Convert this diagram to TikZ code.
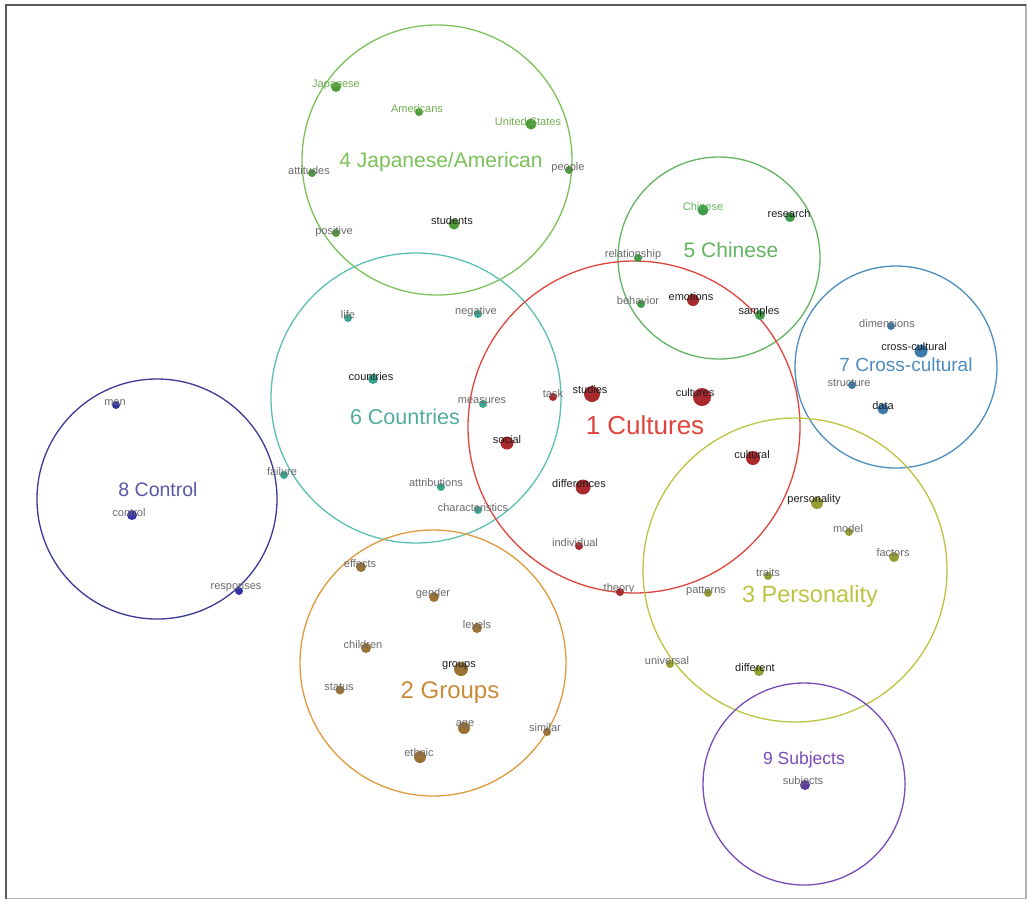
\documentclass[tikz,border=0pt]{standalone}
\usepackage{fontspec}
\setmainfont{Liberation Sans}
\definecolor{cRed}{HTML}{E0443C}
\definecolor{cRedDot}{HTML}{A8282C}
\definecolor{cJap}{HTML}{7CC15A}
\definecolor{cJapDot}{HTML}{4F9A3A}
\definecolor{cChi}{HTML}{62B562}
\definecolor{cChiDot}{HTML}{3F9A4A}
\definecolor{cTeal}{HTML}{5CC0B0}
\definecolor{cTealDot}{HTML}{3AA58F}
\definecolor{cBlue}{HTML}{4D8DBF}
\definecolor{cBlueDot}{HTML}{3B7AAD}
\definecolor{cOlive}{HTML}{BCC441}
\definecolor{cOliveDot}{HTML}{959E30}
\definecolor{cOrange}{HTML}{E09A3E}
\definecolor{cOrangeDot}{HTML}{9A7236}
\definecolor{cNavy}{HTML}{3C3A96}
\definecolor{cNavyDot}{HTML}{3434A8}
\definecolor{cPurple}{HTML}{7A4CB8}
\definecolor{cPurpleDot}{HTML}{5C3A9E}
\tikzset{
  lbl/.style={inner sep=0pt, font=\fontsize{11}{12}\selectfont},
  key/.style={lbl, text=black!88},
  minor/.style={lbl, text=black!58},
  ring/.style={line width=1.3pt},
  title/.style={inner sep=0pt, font=\fontsize{#1}{#1}\selectfont},
}
\begin{document}
\begin{tikzpicture}[x=1pt,y=-1pt]
\useasboundingbox (0,0) rectangle (1027,900);
\fill[white] (0,0) rectangle (1027,900);
\draw[gray!60, line width=1.4pt] (5.5,4.5) rectangle (1026,898.5);
\draw[gray!70!black, line width=2pt] (5.5,898.5) -- (5.5,4.5) -- (1026,4.5);
% rings
\draw[ring, cJap] (437,160) circle (135);
\draw[ring, cChi] (719,258) circle (101);
\draw[ring, cTeal] (416,398) circle (145);
\draw[ring, cRed] (634,427) circle (166);
\draw[ring, cBlue] (896,367) circle (101);
\draw[ring, cOlive] (795,570) circle (152);
\draw[ring, cOrange] (433,663) circle (133);
\draw[ring, cNavy] (157,499) circle (120);
\draw[ring, cPurple] (804,784) circle (101);
% 1 Cultures
\fill[cRedDot] (592,394) circle (8);
\fill[cRedDot] (702,397) circle (9);
\fill[cRedDot] (507,443) circle (6.5);
\fill[cRedDot] (583,487) circle (7.5);
\fill[cRedDot] (753,458) circle (7);
\fill[cRedDot] (693,300) circle (6);
\fill[cRedDot] (553,397) circle (4);
\fill[cRedDot] (579,546) circle (4);
\fill[cRedDot] (620,592) circle (4);
\node[key] (studies) at (590,390) {studies};
\node[key] (cultures) at (695,393) {cultures};
\node[key] (social) at (507,440) {social};
\node[key] (differences) at (579,484) {differences};
\node[key] (cultural) at (752,455) {cultural};
\node[key] (emotions) at (691,297) {emotions};
\node[minor] (task) at (553,394) {task};
\node[minor] (individual) at (575,543) {individual};
\node[minor] (theory) at (619,589) {theory};
\node[title=26, text=cRed] (cultureshead) at (645,425) {1 Cultures};
% 4 Japanese/American
\fill[cJapDot] (336,87) circle (5);
\fill[cJapDot] (419,112) circle (4);
\fill[cJapDot] (531,124) circle (5.5);
\fill[cJapDot] (312,173) circle (4);
\fill[cJapDot] (569,170) circle (4);
\fill[cJapDot] (454,224) circle (5.5);
\fill[cJapDot] (336,233) circle (4);
\node[lbl, text=cJap!90!black] (japanese) at (336,85) {Japanese};
\node[lbl, text=cJap!90!black] (americans) at (417,109) {Americans};
\node[lbl, text=cJap!90!black] (unitedstates) at (528,122) {United States};
\node[minor] (attitudes) at (309,171) {attitudes};
\node[minor] (people) at (568,168) {people};
\node[key] (students) at (452,221) {students};
\node[minor] (positive) at (334,232) {positive};
\node[title=21, text=cJap] (japhead) at (441,162) {4 Japanese/American};
% 5 Chinese
\fill[cChiDot] (703,210) circle (5.5);
\fill[cChiDot] (790,217) circle (5);
\fill[cChiDot] (638,258) circle (4);
\fill[cChiDot] (641,304) circle (4);
\fill[cChiDot] (760,315) circle (5);
\node[lbl, text=cChi] (chinese) at (703,207) {Chinese};
\node[key] (research) at (789,214) {research};
\node[minor] (relationship) at (633,255) {relationship};
\node[minor] (behavior) at (638,301) {behavior};
\node[key] (samples) at (759,312) {samples};
\node[title=21, text=cChi] (chinesehead) at (731,250) {5 Chinese};
% 6 Countries
\fill[cTealDot] (348,318) circle (4);
\fill[cTealDot] (478,314) circle (4);
\fill[cTealDot] (373,379) circle (5);
\fill[cTealDot] (483,404) circle (4);
\fill[cTealDot] (284,475) circle (4);
\fill[cTealDot] (441,487) circle (4);
\fill[cTealDot] (478,510) circle (4);
\node[minor] (life) at (348,315) {life};
\node[minor] (negative) at (476,312) {negative};
\node[key] (countries) at (371,377) {countries};
\node[minor] (measures) at (482,401) {measures};
\node[minor] (failure) at (282,472) {failure};
\node[minor] (attributions) at (436,483) {attributions};
\node[minor] (characteristics) at (473,508) {characteristics};
\node[title=21.5, text=cTeal!90!black] (countrieshead) at (405,417) {6 Countries};
% 7 Cross-cultural
\fill[cBlueDot] (891,326) circle (4);
\fill[cBlueDot] (921,351) circle (6.5);
\fill[cBlueDot] (852,385) circle (4);
\fill[cBlueDot] (883,409) circle (5.5);
\node[minor] (dimensions) at (887,324) {dimensions};
\node[key] (crosscultural) at (914,347) {cross-cultural};
\node[minor] (structure) at (849,383) {structure};
\node[key] (data) at (883,406) {data};
\node[title=19, text=cBlue] (crosshead) at (906,365) {7 Cross-cultural};
% 3 Personality
\fill[cOliveDot] (817,503) circle (6);
\fill[cOliveDot] (849,532) circle (4);
\fill[cOliveDot] (894,557) circle (5);
\fill[cOliveDot] (768,576) circle (4);
\fill[cOliveDot] (708,593) circle (4);
\fill[cOliveDot] (670,664) circle (4);
\fill[cOliveDot] (759,671) circle (5);
\node[key] (personality) at (814,500) {personality};
\node[minor] (model) at (848,529) {model};
\node[minor] (factors) at (893,553) {factors};
\node[minor] (traits) at (768,573) {traits};
\node[minor] (patterns) at (706,591) {patterns};
\node[minor] (universal) at (667,661) {universal};
\node[key] (different) at (755,668) {different};
\node[title=23.5, text=cOlive] (personalityhead) at (810,596) {3 Personality};
% 2 Groups
\fill[cOrangeDot] (361,567) circle (5);
\fill[cOrangeDot] (434,597) circle (5);
\fill[cOrangeDot] (477,628) circle (5);
\fill[cOrangeDot] (366,648) circle (5);
\fill[cOrangeDot] (461,669) circle (7);
\fill[cOrangeDot] (340,690) circle (4.5);
\fill[cOrangeDot] (464,728) circle (6);
\fill[cOrangeDot] (547,732) circle (4);
\fill[cOrangeDot] (420,757) circle (6);
\node[minor] (effects) at (360,564) {effects};
\node[minor] (gender) at (433,594) {gender};
\node[minor] (levels) at (477,625) {levels};
\node[minor] (children) at (363,645) {children};
\node[key] (groups) at (459,666) {groups};
\node[minor] (status) at (339,687) {status};
\node[minor] (age) at (465,725) {age};
\node[minor] (similar) at (545,728) {similar};
\node[minor] (ethnic) at (419,753) {ethnic};
\node[title=24, text=cOrange!90!black] (groupshead) at (450,693) {2 Groups};
% 8 Control
\fill[cNavyDot] (116,405) circle (4);
\fill[cNavyDot] (132,515) circle (5);
\fill[cNavyDot] (239,591) circle (4);
\node[minor] (men) at (115,403) {men};
\node[minor] (control) at (129,513) {control};
\node[minor] (responses) at (236,588) {responses};
\node[title=19.5, text=cNavy!85] (controlhead) at (158,490) {8 Control};
% 9 Subjects
\fill[cPurpleDot] (805,785) circle (5);
\node[minor] (subjects) at (803,782) {subjects};
\node[title=17.5, text=cPurple] (subjectshead) at (804,760) {9 Subjects};
\end{tikzpicture}
\end{document}
